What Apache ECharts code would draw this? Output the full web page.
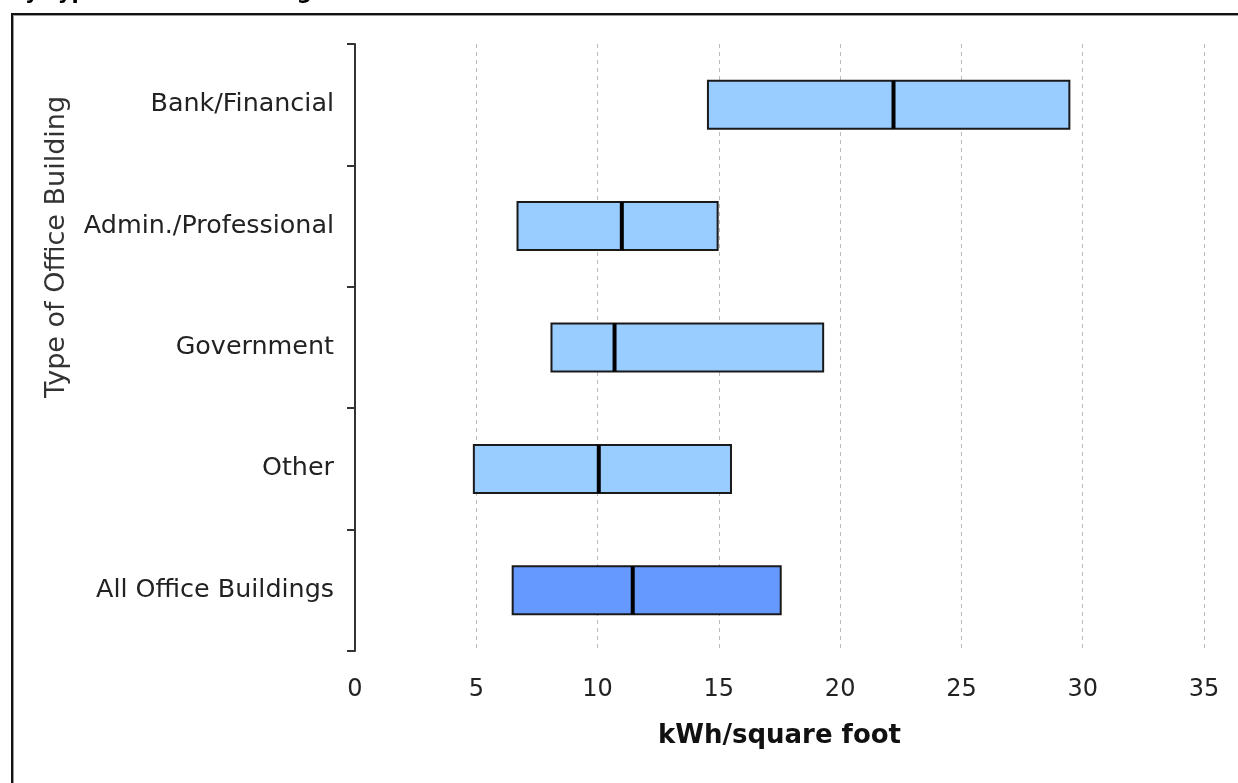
<!DOCTYPE html>
<html>
<head>
<meta charset="utf-8">
<script src="https://cdn.jsdelivr.net/npm/echarts@6/dist/echarts.min.js"></script>
<style>
  html, body { margin: 0; padding: 0; background: #fff; }
  #chart { width: 1238px; height: 783px; }
</style>
</head>
<body>
<div id="chart"></div>
<script>
// ---- data ----
const categories = ['Bank/Financial', 'Admin./Professional', 'Government', 'Other', 'All Office Buildings'];
const lowerQuartile = [14.55, 6.7, 8.1, 4.9, 6.5];
const medianValues = [22.2, 11.0, 10.7, 10.05, 11.45];
const upperQuartile = [29.45, 14.95, 19.3, 15.5, 17.55];
const barColors = ['#99ccff', '#99ccff', '#99ccff', '#99ccff', '#6699ff'];
const xTicks = [0, 5, 10, 15, 20, 25, 30, 35];
const titleText = 'by Type of Office Building';
const xAxisTitle = 'kWh/square foot';
const yAxisTitle = 'Type of Office Building';

const seriesData = categories.map((c, i) => [i, lowerQuartile[i], medianValues[i], upperQuartile[i]]);

const chart = echarts.init(document.getElementById('chart'), null, { renderer: 'canvas' });
const FONT = 'DejaVu Sans';

chart.setOption({
  animation: false,
  backgroundColor: '#ffffff',
  grid: { left: 355, right: 34, top: 44, bottom: 132, containLabel: false },
  xAxis: {
    type: 'value',
    min: xTicks[0],
    max: xTicks[xTicks.length - 1],
    interval: 5,
    axisLine: { show: false },
    axisTick: { show: false },
    axisLabel: { color: '#222', fontFamily: FONT, fontSize: 24, margin: 27 },
    splitLine: { show: true, lineStyle: { color: '#bbbbbb', width: 1, type: [4, 4] } },
    name: xAxisTitle,
    nameLocation: 'middle',
    nameGap: 72,
    nameTextStyle: { color: '#111', fontFamily: FONT, fontWeight: 'bold', fontSize: 26 }
  },
  yAxis: {
    type: 'category',
    data: categories,
    inverse: true,
    axisLine: { show: true, lineStyle: { color: '#333', width: 2 } },
    axisTick: { show: true, length: 8, lineStyle: { color: '#333', width: 2 } },
    axisLabel: { color: '#222', fontFamily: FONT, fontSize: 25.4, margin: 21 },
    splitLine: { show: false }
  },
  series: [{
    type: 'custom',
    data: seriesData,
    encode: { y: 0, x: [1, 2, 3] },
    renderItem: function (params, api) {
      const idx = api.value(0);
      const q1 = api.coord([api.value(1), idx]);
      const med = api.coord([api.value(2), idx]);
      const q3 = api.coord([api.value(3), idx]);
      const band = api.size([0, 1])[1];
      const h = band * 0.395;
      const top = q1[1] - h / 2;
      return {
        type: 'group',
        children: [
          { type: 'rect', shape: { x: q1[0], y: top, width: q3[0] - q1[0], height: h },
            style: { fill: barColors[idx], stroke: '#1a1a1a', lineWidth: 2 } },
          { type: 'line', shape: { x1: med[0], y1: top, x2: med[0], y2: top + h },
            style: { stroke: '#000', lineWidth: 4 } }
        ]
      };
    }
  }],
  graphic: [
    { type: 'rect', silent: true, z: 100,
      shape: { x: 12, y: 14, width: 1260, height: 800 },
      style: { fill: null, stroke: '#111', lineWidth: 2 } },
    { type: 'line', silent: true, z: 100,
      shape: { x1: 14, y1: 15.5, x2: 1238, y2: 15.5 },
      style: { stroke: '#999', lineWidth: 1 } },
    { type: 'line', silent: true, z: 100,
      shape: { x1: 13.5, y1: 15, x2: 13.5, y2: 783 },
      style: { stroke: '#999', lineWidth: 1 } },
    { type: 'text', silent: true, z: 100, x: 10, y: 4,
      style: { text: titleText, fill: '#000', font: 'bold 21px "DejaVu Sans"', textAlign: 'left', textVerticalAlign: 'bottom' } },
    { type: 'text', silent: true, z: 100, x: 57, y: 247, rotation: Math.PI / 2,
      style: { text: yAxisTitle, fill: '#333', font: '27px "DejaVu Sans"', textAlign: 'center', textVerticalAlign: 'middle' } }
  ]
});
</script>
</body>
</html>
